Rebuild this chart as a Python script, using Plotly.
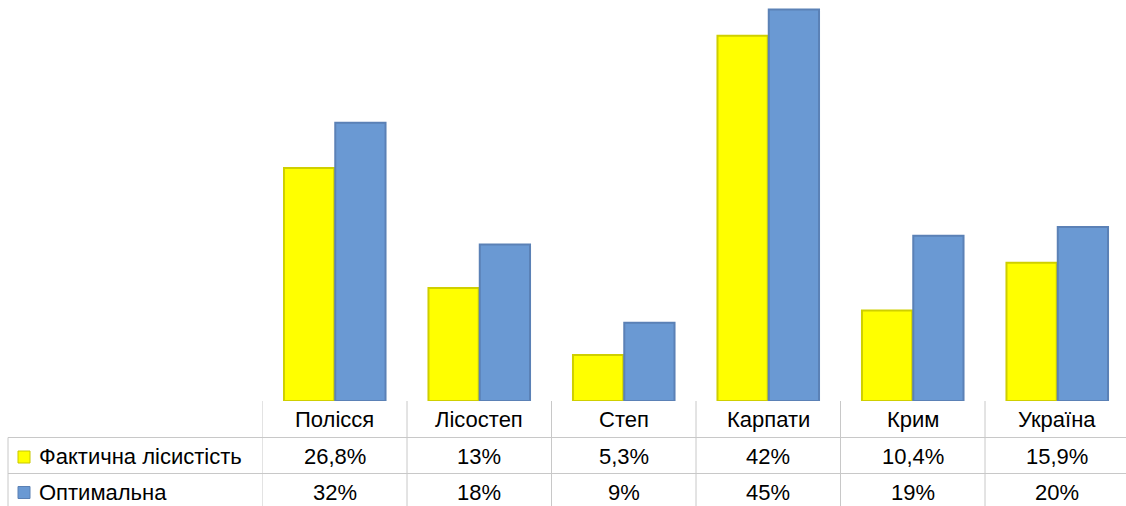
import plotly.graph_objects as go

categories = ["Полісся", "Лісостеп", "Степ", "Карпати", "Крим", "Україна"]
actual = [26.8, 13, 5.3, 42, 10.4, 15.9]
optimal = [32, 18, 9, 45, 19, 20]
series_names = ["Фактична лісистість", "Оптимальна"]

W, H = 1126, 506
FONT = "Liberation Sans"
FS = 22
YELLOW = "#FFFF00"
BLUE = "#6A99D3"
GRID = "#C8C8C8"


def fmt(v):
    s = ("%g" % v).replace(".", ",")
    return s + "%"


fig = go.Figure()
fig.add_trace(go.Bar(x=categories, y=actual, name=series_names[0],
                     marker=dict(color=YELLOW, line=dict(color="#CFCF00", width=2))))
fig.add_trace(go.Bar(x=categories, y=optimal, name=series_names[1],
                     marker=dict(color=BLUE, line=dict(color="#5B81B6", width=2))))

x0 = 262.5 / W
plot_bottom = 401
col_w = 144.5
n = len(categories)
xmax = -0.5 + (W - 262.5) / col_w

fig.update_layout(
    width=W, height=H,
    margin=dict(l=0, r=0, t=0, b=0),
    paper_bgcolor="white", plot_bgcolor="white",
    showlegend=False,
    barmode="group", bargap=0.29, bargroupgap=0.02,
    xaxis=dict(domain=[x0, 1], range=[-0.5, xmax], showticklabels=False,
               showgrid=False, zeroline=False, showline=False, ticks=""),
    yaxis=dict(domain=[(H - plot_bottom) / H, 1], range=[0, 46.1], visible=False),
    font=dict(family=FONT, color="#000000"),
)


def py(ypix):
    return 1 - ypix / H


row_lines = [437.5, 473.5]
shapes = []
for yl in row_lines:
    shapes.append(dict(type="line", xref="paper", yref="paper", x0=8 / W, x1=1,
                       y0=py(yl), y1=py(yl), line=dict(color=GRID, width=1)))
shapes.append(dict(type="line", xref="paper", yref="paper", x0=8 / W, x1=8 / W,
                   y0=py(row_lines[0]), y1=0, line=dict(color=GRID, width=1)))
for i in range(n):
    shapes.append(dict(type="line", xref="x", yref="paper", x0=i - 0.5, x1=i - 0.5,
                       y0=py(plot_bottom), y1=0, line=dict(color=GRID, width=1)))
for (yc, col, lc) in [(457, YELLOW, "#C8C800"), (492.5, BLUE, "#5A80B4")]:
    shapes.append(dict(type="rect", xref="paper", yref="paper",
                       x0=18 / W, x1=30 / W, y0=py(yc + 6), y1=py(yc - 6),
                       fillcolor=col, line=dict(color=lc, width=1)))

annotations = []
row_centers = [419, 456, 492]
for i, c in enumerate(categories):
    for r, txt in enumerate([c, fmt(actual[i]), fmt(optimal[i])]):
        annotations.append(dict(x=i, xref="x", y=py(row_centers[r]), yref="paper",
                                yanchor="middle", text=txt, showarrow=False,
                                font=dict(size=FS, family=FONT)))
for k, name in enumerate(series_names):
    annotations.append(dict(x=37 / W, xref="paper", y=py(row_centers[k + 1]), yref="paper",
                            yanchor="middle", text=name, showarrow=False, xanchor="left",
                            font=dict(size=FS, family=FONT)))

fig.update_layout(shapes=shapes, annotations=annotations)
fig.write_html("out.html", config={"displayModeBar": False},
               post_script="document.body.style.margin='0';document.body.style.overflow='hidden';")
